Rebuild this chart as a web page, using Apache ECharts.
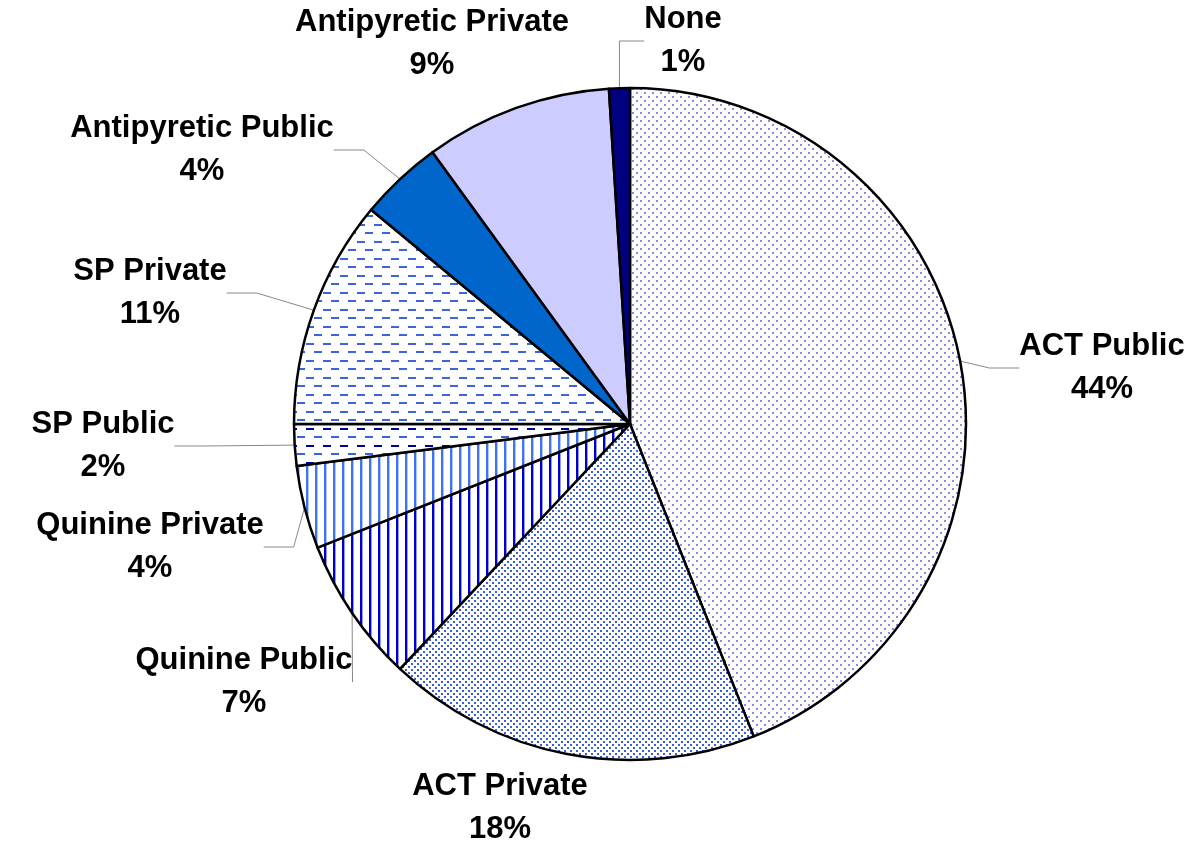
<!DOCTYPE html>
<html>
<head>
<meta charset="utf-8">
<script src="https://cdn.jsdelivr.net/npm/echarts@6/dist/echarts.min.js"></script>
<style>
  html, body { margin: 0; padding: 0; background: #fff; }
  #chart { width: 1200px; height: 859px; }
</style>
</head>
<body>
<div id="chart"></div>
<script>
// slice names and shares (%), clockwise from 12 o'clock
const categories = ['ACT Public', 'ACT Private', 'Quinine Public', 'Quinine Private',
  'SP Public', 'SP Private', 'Antipyretic Public', 'Antipyretic Private', 'None']
const shares = [44, 18, 7, 4, 2, 11, 4, 9, 1]

// where each label sits (centre of the two-line block)
const labelPos = [
  [1102, 368], [500, 808], [244, 682], [150, 547], [103, 446],
  [150, 293], [202, 150], [432, 44], [683, 41]
]
const showLine = [true, false, true, true, true, true, true, false, true]

// small tiles for the hatch fills
function tile(w, h, draw) {
  const c = document.createElement('canvas')
  c.width = w
  c.height = h
  const ctx = c.getContext('2d')
  ctx.fillStyle = '#fff'
  ctx.fillRect(0, 0, w, h)
  draw(ctx)
  return { image: c, repeat: 'repeat' }
}

function dots(w, h, color) {
  return tile(w, h, ctx => {
    ctx.fillStyle = color
    ctx.fillRect(0, 0, 2, 2)
    ctx.fillRect(w / 2, h / 2, 2, 2)
  })
}

function vstripes(color) {
  return tile(9, 4, ctx => {
    ctx.fillStyle = color
    ctx.fillRect(0, 0, 2, 4)
    ctx.globalAlpha = 0.4
    ctx.fillRect(2, 0, 1, 4)
  })
}

function dashes(c1, c2) {
  return tile(17, 17, ctx => {
    ctx.fillStyle = c1
    ctx.fillRect(0, 3, 8, 2)
    ctx.fillStyle = c2
    ctx.fillRect(8, 11, 8, 2)
  })
}

const fills = [
  dots(8, 8, '#8c8ce4'),
  dots(6, 6, '#3a5edc'),
  vstripes('#0000cc'),
  vstripes('#3f72f0'),
  dashes('#000099', '#3366dd'),
  dashes('#3a66d8', '#3a66d8'),
  '#0066cc',
  '#ccccff',
  '#000080'
]

const chart = echarts.init(document.getElementById('chart'))
chart.setOption({
  animation: false,
  series: [{
    type: 'pie',
    center: [630, 424],
    radius: 336,
    startAngle: 90,
    clockwise: true,
    emphasis: { disabled: true },
    itemStyle: { borderColor: '#000', borderWidth: 2.5 },
    label: {
      formatter: '{b}\n{c}%',
      color: '#000',
      fontFamily: 'Liberation Sans, Arial, sans-serif',
      fontWeight: 'bold',
      fontSize: 31,
      lineHeight: 43
    },
    labelLine: { lineStyle: { color: '#888', width: 1 } },
    labelLayout: p => ({
      x: labelPos[p.dataIndex][0],
      y: labelPos[p.dataIndex][1],
      align: 'center',
      verticalAlign: 'middle'
    }),
    data: categories.map((name, i) => ({
      name,
      value: shares[i],
      itemStyle: { color: fills[i] },
      labelLine: { show: showLine[i] }
    }))
  }]
})
</script>
</body>
</html>
